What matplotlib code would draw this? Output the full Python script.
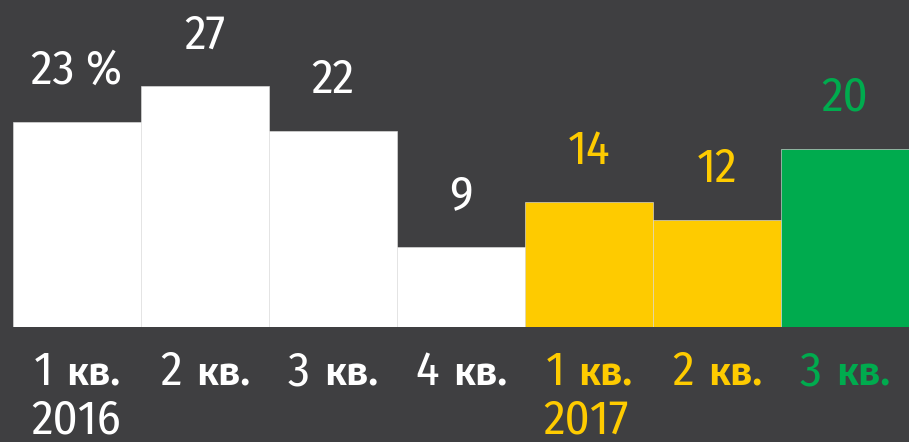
import matplotlib
matplotlib.use("Agg")
import matplotlib.pyplot as plt

# ---- data ----
quarters = ["1", "2", "3", "4", "1", "2", "3"]
quarter_suffix = "кв."
years = {0: "2016", 4: "2017"}
values = [23, 27, 22, 9, 14, 12, 20]
value_labels = ["23 %", "27", "22", "9", "14", "12", "20"]
colors = ["#ffffff", "#ffffff", "#ffffff", "#ffffff", "#fecb00", "#fecb00", "#00ab4e"]
text_colors = ["#ffffff", "#ffffff", "#ffffff", "#ffffff", "#fecb00", "#fecb00", "#00ab4e"]

BG = "#3f3f41"
W, H = 909, 442
DPI = 100
THIN = ["Fira Sans Condensed", "DejaVu Sans"]
BOLD = ["Fira Sans", "DejaVu Sans"]
THIN_W = 400

fig = plt.figure(figsize=(W / DPI, H / DPI), dpi=DPI, facecolor=BG)
baseline_px = 327
ax = fig.add_axes([13 / W, (H - baseline_px) / H, (W - 13) / W, baseline_px / H])
ax.set_facecolor(BG)
x = list(range(len(values)))
ax.bar(x, values, width=1.0, color=colors, edgecolor="#e6e6e6", linewidth=0.4)
ax.set_xlim(-0.5, len(values) - 0.5)
ax.set_ylim(0, 36.7)
ax.axis("off")

for xi, v, lab, tc in zip(x, values, value_labels, text_colors):
    ax.annotate(lab, (xi, v), xytext=(0, 38 * 72 / DPI), textcoords="offset points",
                ha="center", va="baseline", color=tc, fontsize=35,
                family=THIN, fontweight=THIN_W)

# category labels: thin digit + bold suffix, centered under each bar
fig.canvas.draw()
renderer = fig.canvas.get_renderer()
gap_px = 14
base1 = H - 385
base2 = H - 434
for xi, q, tc in zip(x, quarters, text_colors):
    cx = ax.transData.transform((xi, 0))[0]
    t1 = fig.text(0, base1 / H, q, color=tc, fontsize=35, family=THIN, fontweight=THIN_W,
                  ha="left", va="baseline")
    t2 = fig.text(0, base1 / H, quarter_suffix, color=tc, fontsize=29,
                  family=BOLD, fontweight=600, ha="left", va="baseline")
    w1 = t1.get_window_extent(renderer).width
    w2 = t2.get_window_extent(renderer).width
    left = cx - (w1 + gap_px + w2) / 2
    t1.set_x(left / W)
    t2.set_x((left + w1 + gap_px) / W)
    if xi in years:
        fig.text((left - 2) / W, base2 / H, years[xi], color=tc, fontsize=35,
                 family=THIN, fontweight=THIN_W, ha="left", va="baseline")

fig.savefig("out.png", dpi=DPI, facecolor=BG)
